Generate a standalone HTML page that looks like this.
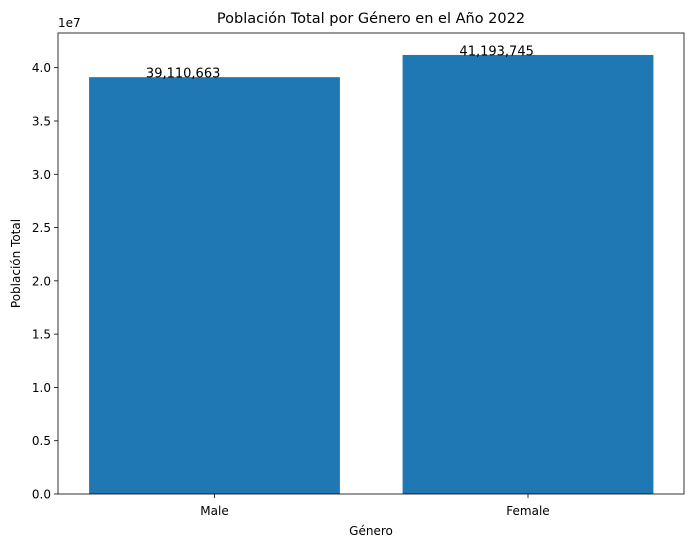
<!DOCTYPE html>
<html><head><meta charset="utf-8"><style>body{margin:0;background:#fff}svg{display:block;font-family:"DejaVu Sans","Liberation Sans",sans-serif}</style></head>
<body>
<svg id="chart" width="691" height="548" viewBox="0 0 691 548"></svg>
<script>
const categories = ["Male", "Female"];
const values = [39110663, 41193745];
const valueLabels = ["39,110,663", "41,193,745"];
const yTicks = [0, 0.5e7, 1e7, 1.5e7, 2e7, 2.5e7, 3e7, 3.5e7, 4e7];
const yTickLabels = ["0.0","0.5","1.0","1.5","2.0","2.5","3.0","3.5","4.0"];

const L=58,R=684,T=33,B=494;
const ymax=Math.max(...values)*1.05;
const y=v=>B-(v/ymax)*(B-T);
const x=i=>214.5+i*313.5;
const svg=document.getElementById('chart');
const NS='http://www.w3.org/2000/svg';
function mk(tag,attrs,text){const e=document.createElementNS(NS,tag);for(const k in attrs)e.setAttribute(k,attrs[k]);if(text!==undefined)e.textContent=text;svg.appendChild(e);return e;}

let t=mk('text',{x:371,y:23,'text-anchor':'middle','font-size':14.5},'Población Total por Género en el Año 2022');



values.forEach((v,i)=>{
  const bw=(x(0.4)-x(-0.4));
  const r=mk('rect',{x:x(i)-bw/2,y:y(v),width:bw,height:B-y(v),fill:'#1f77b4'});
  
  
  const lb=mk('text',{x:x(i-0.1),y:y(v)+0.5,'text-anchor':'middle','font-size':13},valueLabels[i]);
  
  
  const tk=mk('line',{x1:x(i),x2:x(i),y1:B,y2:B+4,stroke:'#000','stroke-width':0.8});
  
  
  const tl=mk('text',{x:x(i),y:B+21,'text-anchor':'middle','font-size':12},categories[i]);
  
  
});

yTicks.forEach((v,i)=>{
  const tk=mk('line',{x1:L-4,x2:L,y1:y(v),y2:y(v),stroke:'#000','stroke-width':0.8});
  
  
  const tl=mk('text',{x:L-7,y:y(v)+4.5,'text-anchor':'end','font-size':12},yTickLabels[i]);
  
  
});

const fr=mk('rect',{x:L,y:T,width:R-L,height:B-T,fill:'none',stroke:'#000','stroke-width':0.8});



const off=mk('text',{x:L,y:T-6,'font-size':12},'1e7');



const xt=mk('text',{x:371,y:535,'text-anchor':'middle','font-size':12},'Género');



const yt=mk('text',{x:0,y:0,'text-anchor':'middle','font-size':12,transform:'translate(20,'+((T+B)/2)+') rotate(-90)'},'Población Total');


</script>
</body></html>
